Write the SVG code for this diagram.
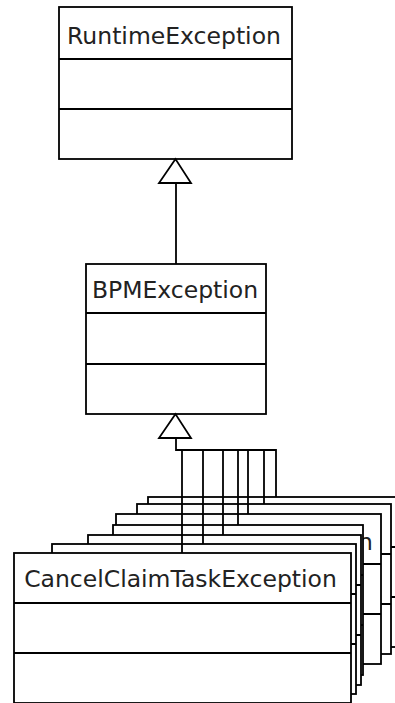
<svg xmlns="http://www.w3.org/2000/svg" width="395" height="703" viewBox="0 0 395 703">
<style>
.box{fill:#fff;stroke:#000;stroke-width:1.8}
.sep{stroke:#000;stroke-width:1.8}
.lbl{font-family:"DejaVu Sans",sans-serif;font-size:23.5px;fill:#222}
.c{text-anchor:middle}
.conn{fill:none;stroke:#000;stroke-width:1.8}
.tri{fill:#fff;stroke:#000;stroke-width:1.8}
</style>
<g id="RuntimeException">
<rect class="box" x="59" y="7" width="233" height="152"/>
<line class="sep" x1="59" y1="59" x2="292" y2="59"/>
<line class="sep" x1="59" y1="109" x2="292" y2="109"/>
<text class="lbl c" x="174" y="44">RuntimeException</text>
</g>
<g id="BPMException">
<rect class="box" x="86" y="264" width="180" height="150"/>
<line class="sep" x1="86" y1="313" x2="266" y2="313"/>
<line class="sep" x1="86" y1="364" x2="266" y2="364"/>
<text class="lbl c" x="175" y="298">BPMException</text>
</g>
<g id="sub7">
<rect class="box" x="148" y="497" width="260" height="150"/>
<line class="sep" x1="148" y1="547" x2="408" y2="547"/>
<line class="sep" x1="148" y1="597" x2="408" y2="597"/>
</g>
<g id="sub6">
<rect class="box" x="137" y="504" width="254" height="150"/>
<line class="sep" x1="137" y1="554" x2="391" y2="554"/>
<line class="sep" x1="137" y1="604" x2="391" y2="604"/>
</g>
<g id="sub5">
<rect class="box" x="116" y="514" width="265" height="150"/>
<line class="sep" x1="116" y1="564" x2="381" y2="564"/>
<line class="sep" x1="116" y1="614" x2="381" y2="614"/>
<text class="lbl" x="358" y="550">n</text>
</g>
<g id="sub4">
<rect class="box" x="113" y="525" width="250" height="150"/>
<line class="sep" x1="113" y1="575" x2="363" y2="575"/>
<line class="sep" x1="113" y1="625" x2="363" y2="625"/>
</g>
<g id="sub3">
<rect class="box" x="88" y="535" width="273" height="150"/>
<line class="sep" x1="88" y1="585" x2="361" y2="585"/>
<line class="sep" x1="88" y1="635" x2="361" y2="635"/>
</g>
<g id="sub2">
<rect class="box" x="52" y="544" width="304" height="150"/>
<line class="sep" x1="52" y1="594" x2="356" y2="594"/>
<line class="sep" x1="52" y1="644" x2="356" y2="644"/>
</g>
<g id="CancelClaimTaskException">
<rect class="box" x="14" y="553" width="337" height="150"/>
<line class="sep" x1="14" y1="603" x2="351" y2="603"/>
<line class="sep" x1="14" y1="653" x2="351" y2="653"/>
<text class="lbl c" x="180.5" y="587">CancelClaimTaskException</text>
</g>
<g id="connectors">
<line class="conn" x1="176" y1="183" x2="176" y2="264"/>
<polygon class="tri" points="175.5,159 159,183 191,183"/>
<polyline class="conn" points="176,438 176,450 276,450 276,497"/>
<line class="conn" x1="182" y1="450" x2="182" y2="553"/>
<line class="conn" x1="203" y1="450" x2="203" y2="544"/>
<line class="conn" x1="223" y1="450" x2="223" y2="535"/>
<line class="conn" x1="238" y1="450" x2="238" y2="525"/>
<line class="conn" x1="248" y1="450" x2="248" y2="514"/>
<line class="conn" x1="264" y1="450" x2="264" y2="504"/>
<polygon class="tri" points="175.5,414 159,438 191,438"/>
</g>
</svg>
